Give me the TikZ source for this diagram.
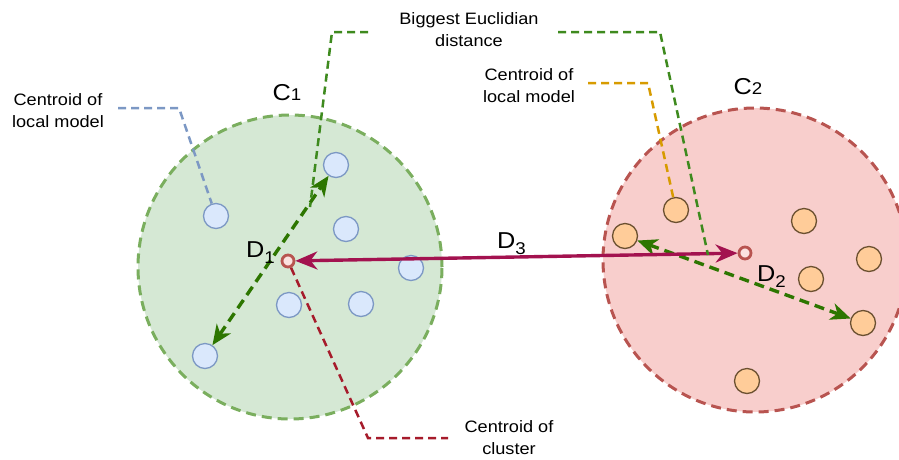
\documentclass[tikz,border=0pt]{standalone}
\usepackage{fontspec}
\setmainfont[FakeStretch=1.1]{Liberation Sans}
\usetikzlibrary{arrows.meta}
\definecolor{gfill}{HTML}{D5E8D4}
\definecolor{gline}{HTML}{7AAE5E}
\definecolor{rfill}{HTML}{F8CECC}
\definecolor{rline}{HTML}{B85450}
\definecolor{bfill}{HTML}{DAE8FC}
\definecolor{bline}{HTML}{7C98C4}
\definecolor{ofill}{HTML}{FFCC99}
\definecolor{oline}{HTML}{6B5030}
\definecolor{crim}{HTML}{A3124F}
\definecolor{darkg}{HTML}{2D7600}
\definecolor{leadg}{HTML}{3E8A1E}
\definecolor{leado}{HTML}{D79B00}
\definecolor{leadr}{HTML}{A61B2B}
\newcommand{\subtxt}[1]{\raisebox{-6pt}{\fontsize{17}{18}\selectfont #1}}
\tikzset{
  cluster/.style={circle,inner sep=0pt,line width=3pt,dash pattern=on 10pt off 6pt},
  bdot/.style={circle,draw=bline,fill=bfill,line width=1.3pt,minimum size=25pt,inner sep=0pt},
  odot/.style={circle,draw=oline,fill=ofill,line width=1.3pt,minimum size=25pt,inner sep=0pt},
  cdot/.style={circle,draw=rline,fill=rfill!60,line width=2.8pt,minimum size=12pt,inner sep=0pt},
  lead/.style={line width=2.5pt,dash pattern=on 8pt off 5pt},
  garrow/.style={darkg,line width=3.4pt,dash pattern=on 10pt off 6pt,{Stealth[length=20pt,width=17pt,inset=6pt]}-{Stealth[length=20pt,width=17pt,inset=6pt]}},
  rarrow/.style={crim,line width=3.4pt,{Stealth[length=22pt,width=18pt,inset=7pt]}-{Stealth[length=22pt,width=18pt,inset=7pt]}},
  txt/.style={align=center,font=\fontsize{16.5}{22}\selectfont,inner sep=0pt},
  lbl/.style={font=\fontsize{23}{26}\selectfont,inner sep=0pt},
}
\begin{document}
\begin{tikzpicture}[x=1pt,y=-1pt]
\useasboundingbox (0,0) rectangle (899,459);
\begin{scope}
\clip (0,0) rectangle (899,459);
% clusters
\node[cluster,draw=gline,fill=gfill,minimum size=304pt] (C1) at (290,267) {};
\node[cluster,draw=rline,fill=rfill,minimum size=304pt] (C2) at (755,260) {};
\end{scope}
% blue dots
\node[bdot] (b1) at (336,165) {};
\node[bdot] (b2) at (216,216) {};
\node[bdot] (b3) at (346,229) {};
\node[bdot] (b4) at (411,268) {};
\node[bdot] (b5) at (289,305) {};
\node[bdot] (b6) at (361,304) {};
\node[bdot] (b7) at (205,356) {};
% orange dots
\node[odot] (o1) at (676,210) {};
\node[odot] (o2) at (625,236) {};
\node[odot] (o3) at (804,221) {};
\node[odot] (o4) at (869,259) {};
\node[odot] (o5) at (811,279) {};
\node[odot] (o6) at (863,323) {};
\node[odot] (o7) at (747,381) {};
% centroids
\node[cdot] (d1) at (288,261) {};
\node[cdot] (d2) at (745,253) {};
% arrows
\draw[garrow] (b7) -- (b1);
\draw[garrow] (o2) -- (o6);
\draw[rarrow] (d1) -- (d2);
% leader lines
\coordinate (gl1) at (368,32);
\coordinate (gl2) at (332,32);
\coordinate (gl3) at (310,207);
\coordinate (gr1) at (558,32);
\coordinate (gr2) at (660,32);
\coordinate (gr3) at (708,255);
\draw[lead,leadg] (gl1) -- (gl2) -- (gl3);
\draw[lead,leadg] (gr1) -- (gr2) -- (gr3);
\coordinate (bl1) at (118,108);
\coordinate (bl2) at (179,108);
\draw[lead,bline] (bl1) -- (bl2) -- (b2);
\coordinate (ol1) at (588,83);
\coordinate (ol2) at (648,83);
\draw[lead,leado] (ol1) -- (ol2) -- (o1);
\coordinate (rl1) at (368,438);
\coordinate (rl2) at (448,438);
\draw[lead,leadr] (d1) -- (rl1) -- (rl2);
% texts
\node[txt] (t1) at (58,111) {Centroid of\\local model};
\node[txt] (t2) at (529,86) {Centroid of\\local model};
\node[txt] (t3) at (469,30) {Biggest Euclidian\\distance};
\node[txt] (t4) at (509,438) {Centroid of\\cluster};
% labels
\node[lbl,anchor=base] (lc1) at (287,100) {C{\fontsize{17}{18}\selectfont 1}};
\node[lbl,anchor=base] (lc2) at (748,94) {C{\fontsize{17}{18}\selectfont 2}};
\node[lbl,anchor=base west] (ld1) at (246,257) {D\subtxt{1}};
\node[lbl,anchor=base west] (ld2) at (757,281) {D\subtxt{2}};
\node[lbl,anchor=base west] (ld3) at (497,248) {D\subtxt{3}};
\end{tikzpicture}
\end{document}
